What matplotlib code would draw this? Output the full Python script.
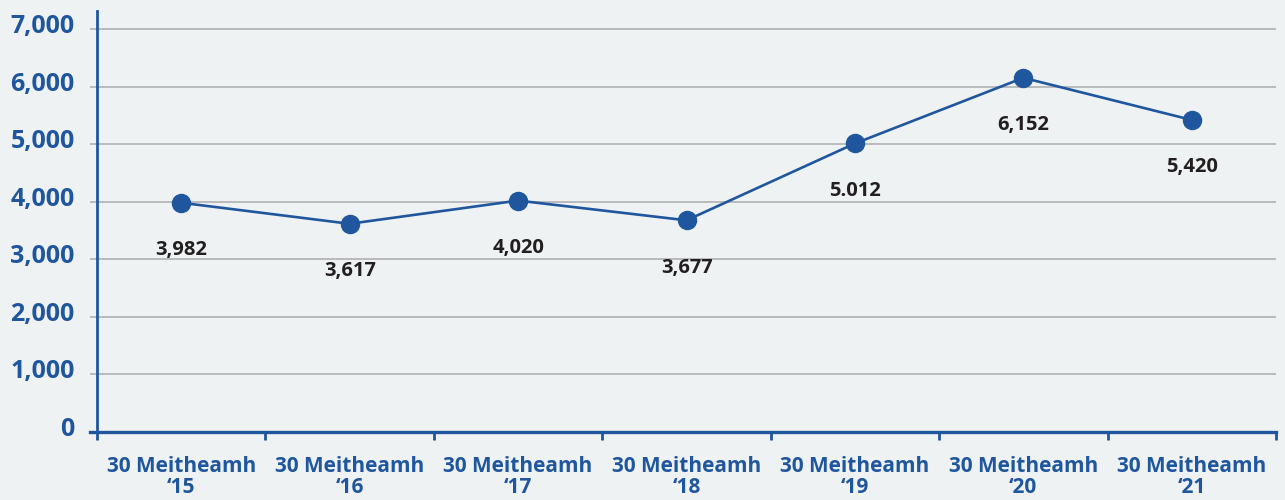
import matplotlib
matplotlib.use("Agg")
import matplotlib.pyplot as plt
import matplotlib.transforms as mtransforms
from matplotlib.ticker import FixedLocator, FuncFormatter

# Series data
categories = ["30 Meitheamh\n\u201815", "30 Meitheamh\n\u201816", "30 Meitheamh\n\u201817",
              "30 Meitheamh\n\u201818", "30 Meitheamh\n\u201819", "30 Meitheamh\n\u201820",
              "30 Meitheamh\n\u201821"]
values = [3982, 3617, 4020, 3677, 5012, 6152, 5420]
value_labels = ["3,982", "3,617", "4,020", "3,677", "5.012", "6,152", "5,420"]
y_ticks = [0, 1000, 2000, 3000, 4000, 5000, 6000, 7000]

BLUE = "#1f569e"
BG = "#eef2f2"
GRID = "#a9abad"
DARK = "#231f20"

plt.rcParams["font.family"] = ["Open Sans", "DejaVu Sans"]
plt.rcParams["font.weight"] = "bold"

fig = plt.figure(figsize=(12.85, 5.0), dpi=100, facecolor=BG)
ax = fig.add_axes([0.0755, 0.136, 0.9175, 0.842], facecolor=BG)

x = list(range(len(values)))
ax.plot(x, values, color=BLUE, lw=1.9, marker="o", ms=13, mfc=BLUE, mec=BLUE, zorder=3)

for xi, v, lab in zip(x, values, value_labels):
    ax.annotate(lab, (xi, v), xytext=(0, -34), textcoords="offset points",
                ha="center", va="center", fontsize=14.5, fontweight="bold", color=DARK)

ax.set_xlim(-0.5, len(values) - 0.5)
ax.set_ylim(0, 7313)

# Gridlines and value axis
ax.yaxis.set_major_locator(FixedLocator(y_ticks))
ax.yaxis.set_major_formatter(FuncFormatter(lambda v, p: f"{int(v):,}"))
ax.grid(axis="y", color=GRID, lw=1.1, zorder=0)
ax.set_axisbelow(True)
ax.tick_params(axis="y", length=5, width=1.1, color=GRID, pad=11,
               labelsize=18, labelcolor=BLUE)
raise_labels = mtransforms.ScaledTranslation(0, 4 / 72, fig.dpi_scale_trans)
for t in ax.get_yticklabels():
    t.set_fontweight("bold")
    t.set_transform(t.get_transform() + raise_labels)

# Category axis: ticks at bin edges, labels at bin centers
ax.xaxis.set_major_locator(FixedLocator([i - 0.5 for i in range(len(values) + 1)]))
ax.xaxis.set_major_formatter(FuncFormatter(lambda v, p: ""))
ax.xaxis.set_minor_locator(FixedLocator(x))
ax.set_xticklabels(categories, minor=True)
ax.tick_params(axis="x", which="major", length=6, width=2, color=BLUE, direction="out")
ax.tick_params(axis="x", which="minor", length=0, pad=17, labelsize=15, labelcolor=BLUE)
for t in ax.get_xticklabels(minor=True):
    t.set_fontweight("bold")
    t.set_linespacing(1.05)

for s in ["top", "right"]:
    ax.spines[s].set_visible(False)
ax.spines["left"].set_color(BLUE)
ax.spines["left"].set_linewidth(2)
ax.spines["bottom"].set_color(BLUE)
ax.spines["bottom"].set_linewidth(2.4)
ax.spines["bottom"].set_bounds(-0.5 - 7 / 168.4, len(values) - 0.5)
ax.spines["bottom"].set_zorder(4)

fig.savefig("out.png", dpi=100, facecolor=BG)
